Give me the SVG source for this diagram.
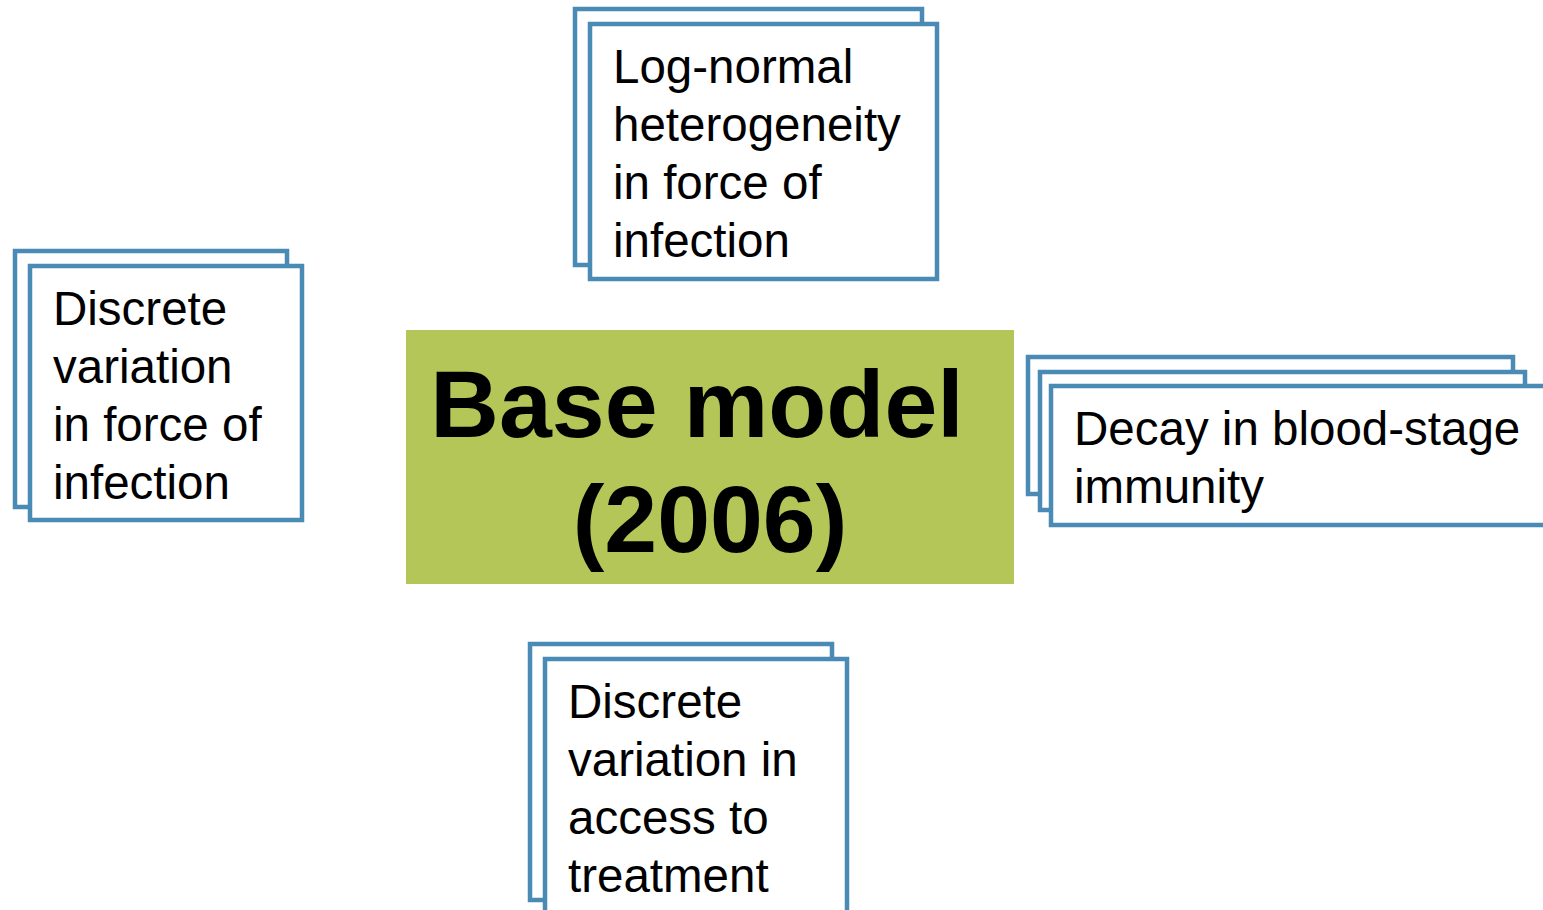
<svg xmlns="http://www.w3.org/2000/svg" width="1543" height="910" viewBox="0 0 1543 910">
<style>
.card{fill:#ffffff;stroke:#4A8BB5;stroke-width:4.5}
.t{font-family:"Liberation Sans",Arial,sans-serif;font-size:47.5px;fill:#000}
.c{font-family:"Liberation Sans",Arial,sans-serif;font-size:95px;font-weight:bold;fill:#000;text-anchor:middle}
</style>
<rect width="1543" height="910" fill="#ffffff"/>
<g id="connectors"></g>
<g id="base">
<rect x="406" y="330" width="608" height="254" fill="#B3C657"/>
<text class="c" x="697" y="437">Base model</text>
<text class="c" x="710" y="552">(2006)</text>
</g>
<g id="lognormal">
<rect class="card" x="575" y="9" width="347" height="256"/>
<rect class="card" x="590" y="24" width="347" height="255"/>
<text class="t" x="613" y="83">Log-normal</text>
<text class="t" x="613" y="141">heterogeneity</text>
<text class="t" x="613" y="199">in force of</text>
<text class="t" x="613" y="257">infection</text>
</g>
<g id="discrete-foi">
<rect class="card" x="15" y="251" width="272" height="256"/>
<rect class="card" x="30" y="266" width="272" height="254"/>
<text class="t" x="53" y="325">Discrete</text>
<text class="t" x="53" y="383">variation</text>
<text class="t" x="53" y="441">in force of</text>
<text class="t" x="53" y="499">infection</text>
</g>
<g id="decay">
<rect class="card" x="1028" y="357" width="485" height="137"/>
<rect class="card" x="1040" y="372" width="485" height="138"/>
<rect class="card" x="1051" y="386" width="520" height="139"/>
<text class="t" x="1074" y="445">Decay in blood-stage</text>
<text class="t" x="1074" y="503">immunity</text>
</g>
<g id="discrete-treatment">
<rect class="card" x="530" y="644" width="302" height="256"/>
<rect class="card" x="545" y="659" width="302" height="280"/>
<text class="t" x="568" y="718">Discrete</text>
<text class="t" x="568" y="776">variation in</text>
<text class="t" x="568" y="834">access to</text>
<text class="t" x="568" y="892">treatment</text>
</g>
</svg>
